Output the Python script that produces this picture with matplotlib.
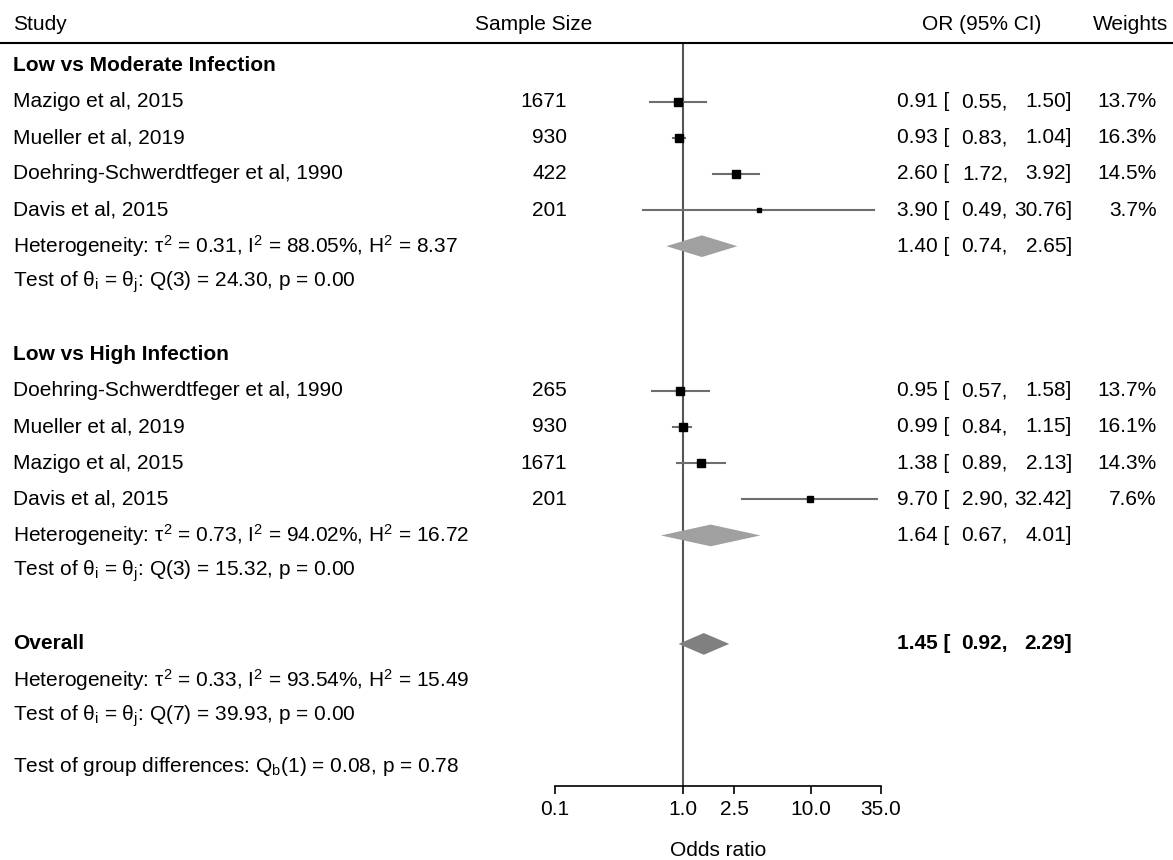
import matplotlib
matplotlib.use("Agg")
import numpy as np
import matplotlib.pyplot as plt
from matplotlib.transforms import blended_transform_factory

plt.rcParams['font.family'] = ['Liberation Sans', 'DejaVu Sans']
plt.rcParams['font.size'] = 15
plt.rcParams['mathtext.default'] = 'regular'

# data
g1_name = "Low vs Moderate Infection"
g1_studies = ["Mazigo et al, 2015", "Mueller et al, 2019",
              "Doehring-Schwerdtfeger et al, 1990", "Davis et al, 2015"]
g1_n = [1671, 930, 422, 201]
g1_or = [0.91, 0.93, 2.60, 3.90]
g1_lo = [0.55, 0.83, 1.72, 0.49]
g1_hi = [1.50, 1.04, 3.92, 30.76]
g1_w = [13.7, 16.3, 14.5, 3.7]
g1_pool = [1.40, 0.74, 2.65]
g1_het = "Heterogeneity: τ$^2$ = 0.31, I$^2$ = 88.05%, H$^2$ = 8.37"
g1_test = "Test of θ$_i$ = θ$_j$: Q(3) = 24.30, p = 0.00"

g2_name = "Low vs High Infection"
g2_studies = ["Doehring-Schwerdtfeger et al, 1990", "Mueller et al, 2019",
              "Mazigo et al, 2015", "Davis et al, 2015"]
g2_n = [265, 930, 1671, 201]
g2_or = [0.95, 0.99, 1.38, 9.70]
g2_lo = [0.57, 0.84, 0.89, 2.90]
g2_hi = [1.58, 1.15, 2.13, 32.42]
g2_w = [13.7, 16.1, 14.3, 7.6]
g2_pool = [1.64, 0.67, 4.01]
g2_het = "Heterogeneity: τ$^2$ = 0.73, I$^2$ = 94.02%, H$^2$ = 16.72"
g2_test = "Test of θ$_i$ = θ$_j$: Q(3) = 15.32, p = 0.00"

overall = [1.45, 0.92, 2.29]
overall_het = "Heterogeneity: τ$^2$ = 0.33, I$^2$ = 93.54%, H$^2$ = 15.49"
overall_test = "Test of θ$_i$ = θ$_j$: Q(7) = 39.93, p = 0.00"
group_diff = "Test of group differences: Q$_b$(1) = 0.08, p = 0.78"

xticks = [0.1, 1, 2.5, 10, 35]
xticklabels = ["0.1", "1.0", "2.5", "10.0", "35.0"]

W, H = 1173, 860
fig = plt.figure(figsize=(W / 100, H / 100), dpi=100)
ax = fig.add_axes([555 / W, 1 - 786 / H, (881 - 555) / W, (786 - 43) / H])
ax.set_xscale('log')
ax.set_xlim(0.1, 35)
ax.set_ylim(19.93, -0.62)

tr = blended_transform_factory(fig.transFigure, ax.transData)

def put(xpx, y, s, ha='left', bold=False):
    ax.text(xpx / W, y, s, transform=tr, ha=ha, va='center',
            fontweight='bold' if bold else 'normal')

def or_text(y, est, lo, hi, bold=False):
    put(897, y, f"{est:.2f} [", bold=bold)
    put(1008, y, f"{lo:.2f},", ha='right', bold=bold)
    put(1072, y, f"{hi:.2f}]", ha='right', bold=bold)

def diamond(y, est, lo, hi, color):
    h = 0.3
    ax.fill([lo, est, hi, est], [y, y - h, y, y + h], color=color, lw=0)

# header
put(13, -1.12, "Study")
put(592, -1.12, "Sample Size", ha='right')
put(982, -1.12, "OR (95% CI)", ha='center')
put(1168, -1.12, "Weights", ha='right')
ax.plot([0, 1], [-0.62, -0.62], transform=tr, color='black', lw=1.5, clip_on=False)

ax.axvline(1, color='#555555', lw=1.5, zorder=1)

def draw_group(start, name, studies, ns, ors, los, his, ws, pool, het, test):
    put(13, start, name, bold=True)
    for i in range(len(studies)):
        y = start + 1 + i
        put(13, y, studies[i])
        put(567, y, str(ns[i]), ha='right')
        ax.plot([los[i], his[i]], [y, y], color='#6e6e6e', lw=1.5, zorder=2)
        ax.plot(ors[i], y, marker='s', color='black', lw=0,
                markersize=2.05 * np.sqrt(ws[i]) * 0.72, zorder=3)
        or_text(y, ors[i], los[i], his[i])
        put(1157, y, f"{ws[i]:.1f}%", ha='right')
    yh = start + 1 + len(studies)
    put(13, yh, het)
    diamond(yh, pool[0], pool[1], pool[2], '#a0a0a0')
    or_text(yh, *pool)
    put(13, yh + 1, test)

draw_group(0, g1_name, g1_studies, g1_n, g1_or, g1_lo, g1_hi, g1_w, g1_pool, g1_het, g1_test)
draw_group(8, g2_name, g2_studies, g2_n, g2_or, g2_lo, g2_hi, g2_w, g2_pool, g2_het, g2_test)

put(13, 16, "Overall", bold=True)
diamond(16, overall[0], overall[1], overall[2], '#808080')
or_text(16, *overall, bold=True)
put(13, 17, overall_het)
put(13, 18, overall_test)
put(13, 19.4, group_diff)

for s in ['top', 'right', 'left']:
    ax.spines[s].set_visible(False)
ax.spines['bottom'].set_linewidth(1.2)
ax.set_yticks([])
ax.set_xticks(xticks)
ax.set_xticklabels(xticklabels)
ax.minorticks_off()
ax.tick_params(axis='x', direction='out', length=6, width=1.2, pad=4)
ax.set_xlabel("Odds ratio", labelpad=16)

fig.savefig("out.png", dpi=100)
